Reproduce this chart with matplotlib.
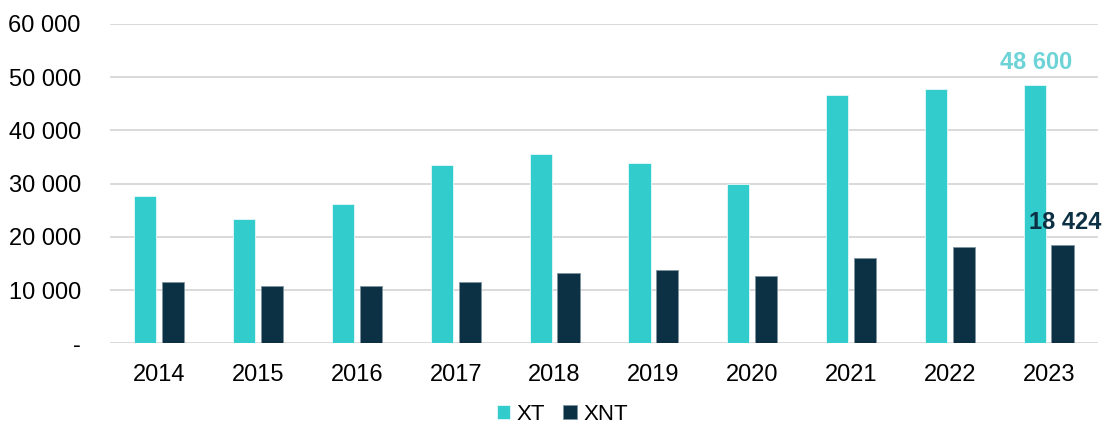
import matplotlib
matplotlib.use("Agg")
import matplotlib.pyplot as plt
import numpy as np

plt.rcParams['font.family'] = ['Liberation Sans', 'DejaVu Sans']

years = ["2014", "2015", "2016", "2017", "2018", "2019", "2020", "2021", "2022", "2023"]
xt = [27640, 23380, 26200, 33520, 35650, 33960, 29950, 46600, 47730, 48600]
xnt = [11600, 10860, 10740, 11600, 13180, 13750, 12680, 16120, 18180, 18424]
yticks = [0, 10000, 20000, 30000, 40000, 50000, 60000]
ytick_labels = ["-", "10 000", "20 000", "30 000", "40 000", "50 000", "60 000"]

c_xt = "#33CCCC"
c_xnt = "#0D3144"

fig = plt.figure(figsize=(11.05, 4.30), dpi=100)
ax = fig.add_axes([0.0995, 0.2012, 0.8942, 0.7430])

x = np.arange(len(years))
w = 0.224
off = 0.141
ax.bar(x - off, xt, w, color=c_xt, edgecolor="#E6F8F8", linewidth=0.6, label="XT", zorder=3)
ax.bar(x + off, xnt, w, color=c_xnt, edgecolor="#7F949E", linewidth=0.6, label="XNT", zorder=3)

ax.set_xlim(-0.5, len(years) - 0.5)
ax.set_ylim(0, 60000)
ax.set_yticks(yticks)
ax.set_yticklabels(ytick_labels)
ax.set_xticks(x)
ax.set_xticklabels(years)
ax.tick_params(axis='both', length=0, labelsize=17, colors="#000000")
ax.tick_params(axis='y', pad=21)
ax.tick_params(axis='x', pad=15)
ax.grid(axis='y', color="#D9D9D9", linewidth=1.4, zorder=0)
for s in ax.spines.values():
    s.set_visible(False)

ax.annotate(f"{xt[-1]:,}".replace(",", " "), (x[-1] - off, xt[-1]), xytext=(1, 8),
            textcoords="offset points", ha="center", va="bottom",
            fontsize=17, fontweight="bold", color="#6ED3D6")
ax.annotate(f"{xnt[-1]:,}".replace(",", " "), (x[-1] + off, xnt[-1]), xytext=(2, 8),
            textcoords="offset points", ha="center", va="bottom",
            fontsize=17, fontweight="bold", color=c_xnt)

fig.legend(loc="lower center", bbox_to_anchor=(0.509, -0.035), ncol=2, frameon=False,
           fontsize=16, handlelength=0.6, handleheight=0.6, handletextpad=0.3,
           columnspacing=0.8)

fig.savefig("out.png", dpi=100)
